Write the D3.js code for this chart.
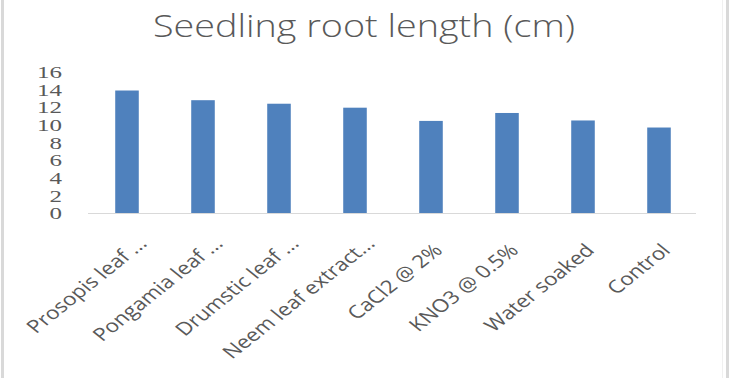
<!DOCTYPE html>
<html>
<head>
<meta charset="utf-8">
<script src="https://cdn.jsdelivr.net/npm/d3@7"></script>
<style>
body{margin:0;background:#fff;}
svg{display:block;}
</style>
</head>
<body>
<div id="chartwrap"></div>
<script>
// chart data
var categories = ["Prosopis leaf ...","Pongamia leaf ...","Drumstic leaf ...","Neem leaf extract...","CaCl2 @ 2%","KNO3 @ 0.5%","Water soaked","Control"];
var rootLength = [13.9, 12.8, 12.4, 11.95, 10.45, 11.35, 10.5, 9.7];
var yTicks = [0,2,4,6,8,10,12,14,16];
var title = "Seedling root length (cm)";

var width = 730, height = 378;
var margin = {left:88, right:34, top:72, bottom:165}; //plot area is 88..696 x 72..213
var squash = 0.67; //the reference picture is flattened vertically, so text is too

var svg = d3.select("#chartwrap").append("svg").attr("width",width).attr("height",height);

//outer frame
svg.append("rect").attr("x",0).attr("y",0).attr("width",width).attr("height",height).attr("fill","#ffffff");
svg.append("rect").attr("x",1).attr("y",0).attr("width",3).attr("height",height).attr("fill","#d9d9d9");
svg.append("rect").attr("x",726).attr("y",0).attr("width",3).attr("height",height).attr("fill","#d9d9d9");
svg.append("rect").attr("x",722).attr("y",0).attr("width",1).attr("height",height).attr("fill","#f0f0f0");

var x = d3.scaleBand().domain(categories).range([margin.left, width-margin.right]).padding(0);
var y = d3.scaleLinear().domain([0,16]).range([height-margin.bottom, margin.top]);

//title
svg.append("text")
	.attr("x",364).attr("y",37)
	.attr("text-anchor","middle")
	.attr("font-family","'Open Sans', sans-serif")
	.attr("font-weight",300)
	.attr("font-size","32px")
	.attr("textLength",422)
	.attr("lengthAdjust","spacingAndGlyphs")
	.attr("fill","#595959")
	.text(title);

//y axis labels (no axis line)
var yAxis = d3.axisLeft(y).tickValues(yTicks).tickSize(0).tickPadding(0);
var ya = svg.append("g").attr("transform","translate(62,0)").call(yAxis);
ya.select(".domain").remove();
ya.selectAll("text")
	.attr("font-family","'Liberation Serif', serif")
	.attr("font-size","25px")
	.attr("fill","#595959")
	.attr("dy","0.34em")
	.attr("transform","scale(1,"+squash+")");

//bars
var barW = x.bandwidth()*0.31;
svg.append("g").selectAll("rect.bar").data(rootLength).enter().append("rect")
	.classed("bar",true)
	.attr("x",function(d,i){return x(categories[i]) + x.bandwidth()/2 - barW/2 + 1})
	.attr("y",function(d){return y(d)})
	.attr("width",barW)
	.attr("height",function(d){return y(0)-y(d)})
	.attr("fill","#4f81bd");

//baseline
svg.append("line")
	.attr("x1",margin.left).attr("x2",width-margin.right)
	.attr("y1",y(0)+0.5).attr("y2",y(0)+0.5)
	.attr("stroke","#d9d9d9").attr("stroke-width",1);

//x labels rotated; truncated ones ("...") sit a bit further along their baseline
var xa = svg.append("g").attr("transform","translate(0,"+(y(0))+")").call(d3.axisBottom(x).tickSize(0).tickPadding(0));
xa.select(".domain").remove();
xa.selectAll("text")
	.attr("font-family","'Open Sans', sans-serif")
	.attr("font-size","22.5px")
	.attr("fill","#595959")
	.attr("text-anchor","end")
	.attr("dy","0.35em")
	.attr("x",function(d){return d.slice(-3)=="..." ? 12 : 0})
	.attr("transform","translate(8,34) scale(1,0.8) rotate(-45)");
</script>
</body>
</html>
